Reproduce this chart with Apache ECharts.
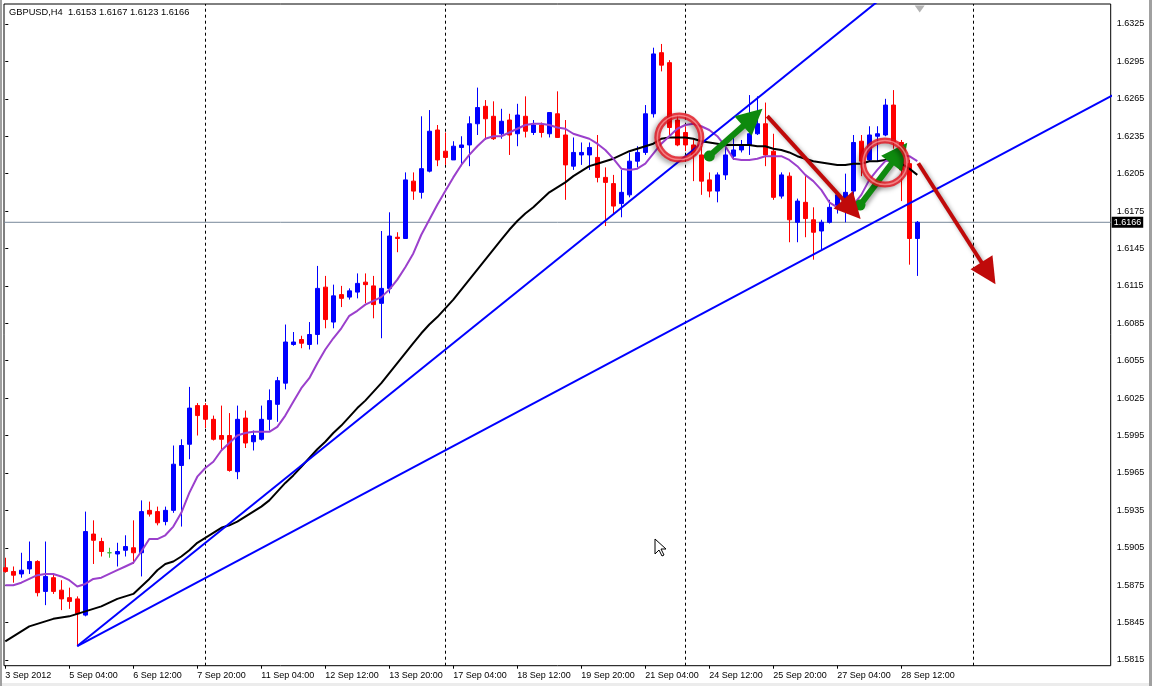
<!DOCTYPE html>
<html>
<head>
<meta charset="utf-8">
<script src="https://cdn.jsdelivr.net/npm/echarts@6/dist/echarts.min.js"></script>
<style>
  html, body { margin: 0; padding: 0; background: #ffffff; }
  #chart { width: 1152px; height: 686px; }
</style>
</head>
<body>
<div id="chart"></div>
<script>
// ---- data ----
const titleText = 'GBPUSD,H4  1.6153 1.6167 1.6123 1.6166';
const tickIdx = [0, 8, 16, 24, 32, 40, 48, 56, 64, 72, 80, 88, 96, 104, 112];
const tickLabels = ['3 Sep 2012', '5 Sep 04:00', '6 Sep 12:00', '7 Sep 20:00', '11 Sep 04:00', '12 Sep 12:00',
  '13 Sep 20:00', '17 Sep 04:00', '18 Sep 12:00', '19 Sep 20:00', '21 Sep 04:00', '24 Sep 12:00',
  '25 Sep 20:00', '27 Sep 04:00', '28 Sep 12:00'];
const yTicks = [1.5815, 1.5845, 1.5875, 1.5905, 1.5935, 1.5965, 1.5995, 1.6025, 1.6055, 1.6085,
  1.6115, 1.6145, 1.6175, 1.6205, 1.6235, 1.6265, 1.6295, 1.6325];

const opens = [1.5889,1.5886,1.5884,1.5888,1.5894,1.5870,1.5881,1.5871,1.5865,1.5864,
  1.5851,1.5916,1.5910,1.5901,1.5900,1.5903,1.5905,1.5901,1.5935,1.5934,
  1.5926,1.5935,1.5971,1.5988,1.6019,1.6019,1.6008,1.5995,1.5995,1.5966,
  1.6009,1.5990,1.5992,1.6008,1.6020,1.6037,1.6068,1.6072,1.6068,1.6076,
  1.6114,1.6086,1.6108,1.6106,1.6110,1.6118,1.6115,1.6101,1.6113,1.6154,
  1.6153,1.6199,1.6190,1.6207,1.6240,1.6223,1.6216,1.6226,1.6228,1.6245,
  1.6259,1.6251,1.6237,1.6248,1.6237,1.6251,1.6238,1.6244,1.6237,1.6253,
  1.6236,1.6211,1.6220,1.6220,1.6218,1.6202,1.6197,1.6181,1.6188,1.6215,
  1.6222,1.6253,1.6302,1.6294,1.6248,1.6238,1.6228,1.6220,1.6200,1.6191,
  1.6204,1.6219,1.6224,1.6228,1.6237,1.6245,1.6223,1.6187,1.6203,1.6166,
  1.6182,1.6168,1.6159,1.6166,1.6178,1.6184,1.6191,1.6231,1.6216,1.6235,
  1.6236,1.6260,1.6230,1.6213,1.6153];
const closes = [1.5886,1.5883,1.5887,1.5894,1.5869,1.5882,1.5870,1.5864,1.5862,1.5852,
  1.5918,1.5911,1.5902,1.5901,1.5902,1.5906,1.5901,1.5934,1.5932,1.5925,
  1.5935,1.5972,1.5987,1.6017,1.6011,1.6008,1.5992,1.5992,1.5967,1.6008,
  1.5989,1.5995,1.6008,1.6023,1.6039,1.6070,1.6070,1.6069,1.6076,1.6113,
  1.6088,1.6107,1.6105,1.6111,1.6117,1.6116,1.6100,1.6113,1.6155,1.6153,
  1.6200,1.6191,1.6209,1.6239,1.6216,1.6218,1.6227,1.6228,1.6245,1.6258,
  1.6249,1.6233,1.6247,1.6236,1.6252,1.6239,1.6244,1.6238,1.6254,1.6234,
  1.6212,1.6222,1.6222,1.6226,1.6202,1.6198,1.6179,1.6190,1.6215,1.6222,
  1.6253,1.6301,1.6292,1.6242,1.6228,1.6228,1.6220,1.6199,1.6191,1.6204,
  1.6220,1.6224,1.6228,1.6237,1.6245,1.6220,1.6186,1.6204,1.6168,1.6183,
  1.6169,1.6158,1.6166,1.6178,1.6188,1.6190,1.6230,1.6215,1.6236,1.6237,
  1.6260,1.6230,1.6208,1.6153,1.6166];
const lows = [1.5885,1.5877,1.5881,1.5884,1.5866,1.5859,1.5868,1.5855,1.5856,1.5826,
  1.5850,1.5892,1.5898,1.5897,1.5890,1.5898,1.5892,1.5882,1.5930,1.5923,
  1.5923,1.5933,1.5922,1.5976,1.5995,1.6001,1.5991,1.5984,1.5966,1.5960,
  1.5985,1.5983,1.5991,1.5999,1.6006,1.6032,1.6067,1.6065,1.6064,1.6068,
  1.6081,1.6081,1.6098,1.6104,1.6105,1.6101,1.6089,1.6073,1.6109,1.6142,
  1.6153,1.6184,1.6185,1.6206,1.6211,1.6212,1.6216,1.6211,1.6211,1.6236,
  1.6232,1.6232,1.6233,1.6220,1.6227,1.6234,1.6236,1.6234,1.6234,1.6234,
  1.6184,1.6208,1.6212,1.6208,1.6198,1.6163,1.6172,1.6170,1.6186,1.6210,
  1.6220,1.6250,1.6287,1.6236,1.6227,1.6223,1.6199,1.6188,1.6186,1.6182,
  1.6200,1.6216,1.6222,1.6220,1.6236,1.6211,1.6184,1.6185,1.6150,1.6150,
  1.6154,1.6136,1.6144,1.6165,1.6173,1.6166,1.6184,1.6203,1.6215,1.6215,
  1.6235,1.6225,1.6183,1.6132,1.6123];
const highs = [1.5897,1.5890,1.5901,1.5910,1.5895,1.5910,1.5884,1.5879,1.5873,1.5866,
  1.5934,1.5927,1.5913,1.5905,1.5909,1.5915,1.5927,1.5943,1.5942,1.5938,
  1.5938,1.5987,1.5992,1.6034,1.6021,1.6021,1.6011,1.6019,1.6013,1.6019,
  1.6015,1.5999,1.6019,1.6032,1.6042,1.6084,1.6078,1.6075,1.6086,1.6131,
  1.6123,1.6116,1.6115,1.6113,1.6125,1.6125,1.6123,1.6159,1.6174,1.6158,
  1.6206,1.6206,1.6251,1.6256,1.6244,1.6238,1.6231,1.6235,1.6251,1.6274,
  1.6264,1.6263,1.6257,1.6253,1.6261,1.6267,1.6248,1.6246,1.6254,1.6271,
  1.6248,1.6234,1.6230,1.6230,1.6236,1.6210,1.6204,1.6208,1.6222,1.6227,
  1.6260,1.6306,1.6309,1.6296,1.6252,1.6243,1.6232,1.6227,1.6206,1.6206,
  1.6227,1.6236,1.6232,1.6268,1.6267,1.6262,1.6237,1.6206,1.6206,1.6185,
  1.6203,1.6178,1.6168,1.6184,1.6189,1.6205,1.6236,1.6236,1.6243,1.6243,
  1.6265,1.6272,1.6232,1.6216,1.6167];
const dojiIdx = [13];

const maFast = [1.5875,1.5875,1.5877,1.5880,1.5883,1.5884,1.5884,1.5882,1.5879,1.5874,
  1.5876,1.5880,1.5881,1.5884,1.5887,1.5890,1.5893,1.5902,1.5912,1.5912,
  1.5915,1.5922,1.5933,1.5949,1.5962,1.5969,1.5974,1.5983,1.5989,1.5995,
  1.5997,1.5998,1.5998,1.5998,1.6002,1.6011,1.6022,1.6033,1.6041,1.6053,
  1.6064,1.6073,1.6081,1.6091,1.6095,1.6100,1.6103,1.6106,1.6112,1.6120,
  1.6130,1.6141,1.6156,1.6168,1.6180,1.6191,1.6202,1.6212,1.6220,1.6227,
  1.6233,1.6235,1.6235,1.6238,1.6241,1.6244,1.6245,1.6245,1.6244,1.6242,
  1.6241,1.6237,1.6235,1.6233,1.6229,1.6224,1.6217,1.6209,1.6208,1.6209,
  1.6213,1.6221,1.6229,1.6235,1.6241,1.6244,1.6245,1.6243,1.6240,1.6235,
  1.6227,1.6217,1.6216,1.6216,1.6217,1.6219,1.6219,1.6219,1.6216,1.6211,
  1.6204,1.6199,1.6192,1.6182,1.6178,1.6177,1.6180,1.6188,1.6200,1.6208,
  1.6215,1.6217,1.6220,1.6219,1.6215];
const maSlow = [1.5830,1.5834,1.5838,1.5842,1.5844,1.5846,1.5848,1.5849,1.5850,1.5852,
  1.5854,1.5856,1.5858,1.5861,1.5864,1.5866,1.5868,1.5874,1.5880,1.5887,
  1.5892,1.5894,1.5898,1.5903,1.5909,1.5913,1.5917,1.5921,1.5923,1.5926,
  1.5930,1.5934,1.5938,1.5943,1.5950,1.5957,1.5963,1.5970,1.5977,1.5984,
  1.5990,1.5997,1.6003,1.6010,1.6017,1.6023,1.6030,1.6037,1.6045,1.6053,
  1.6061,1.6069,1.6077,1.6084,1.6090,1.6097,1.6104,1.6112,1.6120,1.6128,
  1.6136,1.6144,1.6152,1.6160,1.6167,1.6173,1.6178,1.6184,1.6190,1.6194,
  1.6198,1.6203,1.6207,1.6211,1.6213,1.6215,1.6217,1.6220,1.6223,1.6225,
  1.6227,1.6229,1.6233,1.6234,1.6234,1.6234,1.6233,1.6231,1.6230,1.6229,
  1.6228,1.6228,1.6228,1.6228,1.6227,1.6227,1.6225,1.6224,1.6222,1.6219,
  1.6217,1.6215,1.6214,1.6213,1.6212,1.6212,1.6213,1.6213,1.6215,1.6215,
  1.6216,1.6215,1.6213,1.6209,1.6204];

const lastPrice = 1.6166;
const weekLines = [25, 55, 85, 121];
const trendSteep = [[9, 1.58262], [115.46, 1.63763]];
const trendShallow = [[9, 1.58262], [140, 1.62732]];
const greenArrows = [[[88.0, 1.62191], [93.43, 1.62501]], [[106.84, 1.61798], [111.76, 1.62214]]];
const redArrows = [[[95.25, 1.62512], [105.83, 1.61763]], [[114.125, 1.62133], [122.9, 1.61251]]];
const circles = [[84.25, 1.62339], [109.96, 1.62139]];
const shiftMarker = [[114.3, 1.6337]];

// ---- chart ----
const FONT = "'Liberation Sans', Arial, sans-serif";
const X_MIN = -0.1625, X_MAX = 138.175;
const chart = echarts.init(document.getElementById('chart'), null, { renderer: 'canvas' });

const candleData = opens.map((o, i) => {
  const item = { value: [i, o, closes[i], lows[i], highs[i]] };
  if (dojiIdx.indexOf(i) >= 0) {
    item.itemStyle = { color: '#33bb33', color0: '#33bb33', borderColor: '#33bb33', borderColor0: '#33bb33' };
  }
  return item;
});
const labelMap = {};
tickIdx.forEach((v, i) => { labelMap[v] = tickLabels[i]; });

const option = {
  animation: false,
  backgroundColor: '#ffffff',
  title: {
    text: titleText, left: 9, top: 8, padding: 0,
    textStyle: { fontSize: 9.3, fontWeight: 'normal', color: '#000', fontFamily: FONT }
  },
  grid: {
    left: 4, top: 4, right: 41.3, bottom: 20.3,
    show: true, borderColor: '#000', borderWidth: 1, backgroundColor: '#fff'
  },
  xAxis: {
    type: 'value', min: X_MIN, max: X_MAX,
    axisLine: { show: false },
    splitLine: { show: false },
    axisTick: { show: true, customValues: tickIdx, length: 3, lineStyle: { color: '#000' } },
    axisLabel: {
      customValues: tickIdx, formatter: v => labelMap[v] || '',
      align: 'left', margin: 5, color: '#000', fontSize: 9, fontFamily: FONT
    }
  },
  yAxis: {
    type: 'value', position: 'right', min: 1.581043, max: 1.6341038, scale: true,
    axisLine: { show: false },
    splitLine: { show: false },
    axisTick: { show: true, customValues: yTicks, length: 3, lineStyle: { color: '#000' } },
    axisLabel: {
      customValues: yTicks, formatter: v => v.toFixed(4),
      margin: 6, color: '#000', fontSize: 9, fontFamily: FONT, padding: [0, 0, 4, 0]
    }
  },
  series: [
    {
      type: 'line', data: [], silent: true, z: 1,
      markLine: {
        silent: true, symbol: ['none', 'none'], z: 1, animation: false,
        data: weekLines.map(v => ({
          xAxis: v, lineStyle: { color: '#000', width: 1, type: [3, 3] }, label: { show: false }
        }))
      }
    },
    {
      type: 'line', z: 1, silent: true, showSymbol: false, symbol: 'none',
      data: [[X_MIN, lastPrice], [X_MAX, lastPrice]],
      lineStyle: { color: '#778899', width: 1 },
      endLabel: {
        show: true, formatter: lastPrice.toFixed(4), distance: 1,
        backgroundColor: '#000', color: '#fff', padding: [1, 2, 1, 2],
        fontSize: 9, fontFamily: FONT
      }
    },
    {
      type: 'candlestick', z: 2,
      data: candleData,
      encode: { x: 0, y: [1, 2, 3, 4] },
      barWidth: 4,
      itemStyle: { color: '#0000ff', color0: '#ff0000', borderColor: '#0000ff', borderColor0: '#ff0000', borderWidth: 1 }
    },
    {
      type: 'line', z: 3, data: maSlow.map((v, i) => [i, v]), showSymbol: false, symbol: 'none',
      lineStyle: { color: '#000000', width: 2 }, silent: true
    },
    {
      type: 'line', z: 3, data: maFast.map((v, i) => [i, v]), showSymbol: false, symbol: 'none',
      lineStyle: { color: '#9b40cc', width: 2 }, silent: true
    },
    {
      type: 'line', z: 4, data: trendSteep, showSymbol: false, symbol: 'none',
      lineStyle: { color: '#0000ff', width: 2 }, silent: true
    },
    {
      type: 'line', z: 4, data: trendShallow, showSymbol: false, symbol: 'none',
      lineStyle: { color: '#0000ff', width: 2 }, silent: true
    },
    {
      type: 'scatter', z: 6, data: circles, symbol: 'circle', symbolSize: 44, silent: true,
      itemStyle: {
        color: 'rgba(0,0,0,0)', borderColor: '#e3101c', borderWidth: 6,
        shadowBlur: 5, shadowColor: 'rgba(0,0,0,0.45)', shadowOffsetX: -2, shadowOffsetY: 2
      }
    },
    {
      type: 'scatter', z: 7, data: circles, symbol: 'circle', symbolSize: 44, silent: true,
      itemStyle: { color: 'rgba(0,0,0,0)', borderColor: 'rgba(255,170,170,0.8)', borderWidth: 1.5 }
    },
    {
      type: 'line', data: [], z: 6,
      markLine: {
        silent: true, z: 6, animation: false,
        lineStyle: { color: '#0e8a0e', width: 6, type: 'solid', shadowBlur: 4, shadowColor: 'rgba(0,0,0,0.35)', shadowOffsetX: 2, shadowOffsetY: 2 },
        label: { show: false },
        data: greenArrows.map(a => [
          { coord: a[0], symbol: 'circle', symbolSize: 11 },
          { coord: a[1], symbol: 'triangle', symbolSize: 26 }
        ])
      }
    },
    {
      type: 'line', data: [], z: 6,
      markLine: {
        silent: true, z: 6, animation: false,
        lineStyle: { color: '#c00a0a', width: 4, type: 'solid', shadowBlur: 4, shadowColor: 'rgba(0,0,0,0.35)', shadowOffsetX: 2, shadowOffsetY: 2 },
        label: { show: false },
        data: redArrows.map(a => [
          { coord: a[0], symbol: 'none' },
          { coord: a[1], symbol: 'triangle', symbolSize: 26 }
        ])
      }
    },
    {
      type: 'scatter', z: 6, data: shiftMarker, symbol: 'triangle', symbolRotate: 180,
      symbolSize: [10, 7], silent: true, itemStyle: { color: '#a0a0a0' }
    }
  ],
  graphic: [
    { type: 'rect', silent: true, z: 100, shape: { x: 0, y: 0, width: 2, height: 686 }, style: { fill: '#a0a0a0' } },
    { type: 'rect', silent: true, z: 100, shape: { x: 1149, y: 0, width: 3, height: 686 }, style: { fill: '#a0a0a0' } },
    { type: 'rect', silent: true, z: 99, shape: { x: 0, y: 683, width: 1152, height: 3 }, style: { fill: '#ececec' } },
    {
      type: 'polygon', z: 100, silent: true, x: 655, y: 539,
      shape: { points: [[0, 0], [0, 15], [4, 11], [7, 17], [9, 16], [6, 10], [11, 10]] },
      style: { fill: '#fff', stroke: '#000', lineWidth: 1 }
    }
  ]
};
chart.setOption(option);
</script>
</body>
</html>
